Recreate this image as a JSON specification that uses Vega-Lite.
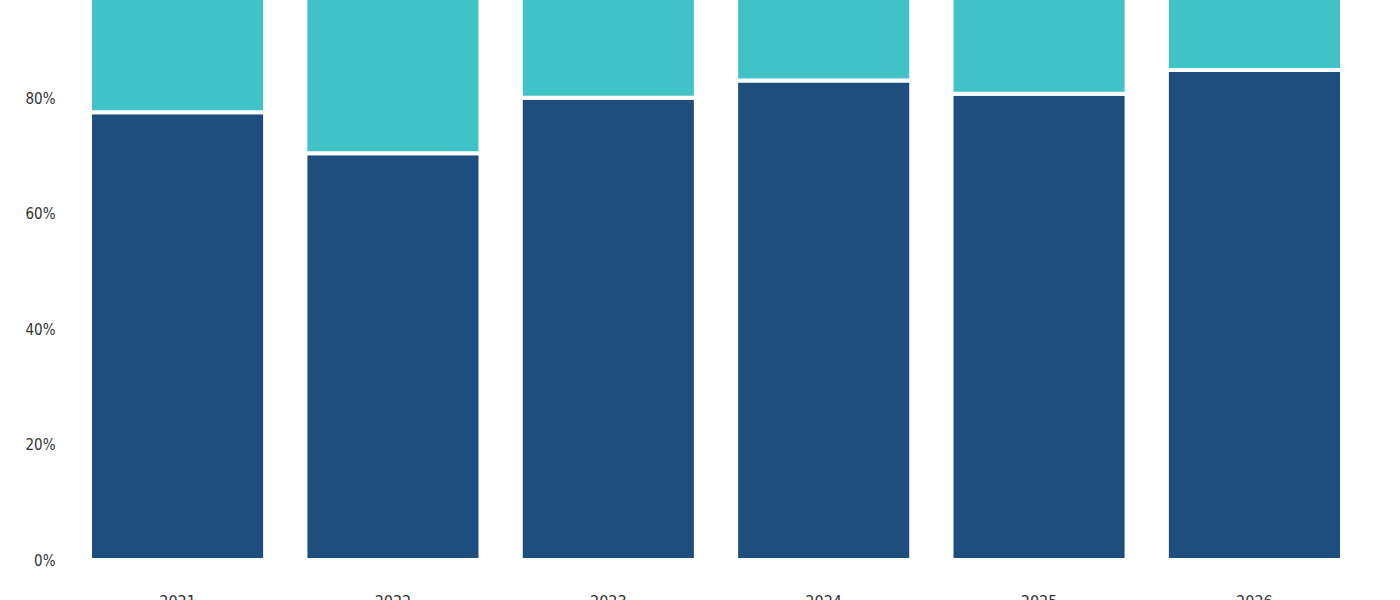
{
  "$schema": "https://vega.github.io/schema/vega-lite/v6.json",
  "description": "Stacked share bars per year, cropped view",
  "width": 1292,
  "height": 560,
  "autosize": {"type": "none"},
  "padding": {"left": 70, "top": 0, "right": 38, "bottom": 40},
  "background": "white",
  "config": {
    "view": {"stroke": null},
    "font": "Liberation Sans Narrow, DejaVu Sans Condensed, Roboto, sans-serif"
  },
  "data": {
    "values": [
      {"year": "2021", "segment": "primary", "rank": 1, "share": 0.776},
      {"year": "2021", "segment": "secondary", "rank": 2, "share": 0.224},
      {"year": "2022", "segment": "primary", "rank": 1, "share": 0.705},
      {"year": "2022", "segment": "secondary", "rank": 2, "share": 0.295},
      {"year": "2023", "segment": "primary", "rank": 1, "share": 0.801},
      {"year": "2023", "segment": "secondary", "rank": 2, "share": 0.199},
      {"year": "2024", "segment": "primary", "rank": 1, "share": 0.831},
      {"year": "2024", "segment": "secondary", "rank": 2, "share": 0.169},
      {"year": "2025", "segment": "primary", "rank": 1, "share": 0.808},
      {"year": "2025", "segment": "secondary", "rank": 2, "share": 0.192},
      {"year": "2026", "segment": "primary", "rank": 1, "share": 0.849},
      {"year": "2026", "segment": "secondary", "rank": 2, "share": 0.151}
    ]
  },
  "mark": {"type": "bar", "clip": true, "stroke": "white", "strokeWidth": 4},
  "encoding": {
    "x": {
      "field": "year",
      "type": "nominal",
      "title": null,
      "scale": {"paddingInner": 0.187, "paddingOuter": 0.093},
      "axis": {
        "labelAngle": 0,
        "ticks": false,
        "tickSize": 0,
        "domain": false,
        "grid": false,
        "labelPadding": 33,
        "labelFontSize": 16,
        "labelColor": "#333333"
      }
    },
    "y": {
      "field": "share",
      "type": "quantitative",
      "stack": "zero",
      "title": null,
      "scale": {"domain": [0, 0.9705], "nice": false},
      "axis": {
        "values": [0, 0.2, 0.4, 0.6, 0.8],
        "format": ".0%",
        "ticks": false,
        "tickSize": 0,
        "domain": false,
        "grid": false,
        "labelPadding": 15,
        "labelFontSize": 15,
        "labelColor": "#333333"
      }
    },
    "color": {
      "field": "segment",
      "type": "nominal",
      "scale": {"domain": ["primary", "secondary"], "range": ["#1d4e7e", "#41c2c7"]},
      "legend": null
    },
    "order": {"field": "rank", "type": "quantitative"}
  }
}
